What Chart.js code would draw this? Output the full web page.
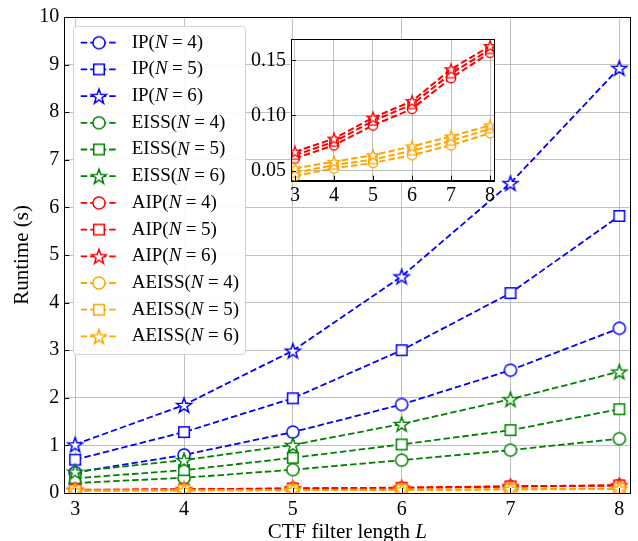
<!DOCTYPE html>
<html>
<head>
<meta charset="utf-8">
<script src="https://cdn.jsdelivr.net/npm/chart.js@4"></script>
<style>
body { margin: 0; background: #fff; }
#wrap { position: relative; width: 638px; height: 541px; }
#main { position: absolute; left: 0; top: 0; }
#inset { position: absolute; left: 240px; top: 22px; }
</style>
</head>
<body>
<div id="wrap">
  <canvas id="main" width="638" height="541"></canvas>
  <canvas id="inset" width="262" height="190"></canvas>
</div>
<script>
// filter lengths L
const lengths = [3, 4, 5, 6, 7, 8];
const yTicks = [0, 1, 2, 3, 4, 5, 6, 7, 8, 9, 10];
const insetTicks = [0.05, 0.10, 0.15];

// runtime (s)
const ipN4 = [0.43, 0.80, 1.28, 1.86, 2.58, 3.46];
const ipN5 = [0.70, 1.28, 1.99, 3.00, 4.20, 5.82];
const ipN6 = [1.02, 1.85, 2.99, 4.55, 6.51, 8.93];
const eissN4 = [0.21, 0.32, 0.49, 0.69, 0.90, 1.14];
const eissN5 = [0.31, 0.48, 0.74, 1.02, 1.32, 1.76];
const eissN6 = [0.45, 0.69, 1.01, 1.45, 1.97, 2.55];
const aipN4 = [0.061, 0.073, 0.091, 0.106, 0.134, 0.157];
const aipN5 = [0.064, 0.076, 0.095, 0.110, 0.138, 0.160];
const aipN6 = [0.067, 0.079, 0.098, 0.113, 0.142, 0.163];
const aeissN4 = [0.045, 0.052, 0.057, 0.064, 0.073, 0.084];
const aeissN5 = [0.048, 0.055, 0.060, 0.068, 0.077, 0.088];
const aeissN6 = [0.052, 0.058, 0.064, 0.072, 0.081, 0.091];

const series = [
    { name: 'IP', n: 4, data: ipN4, color: '#0000ff', shape: 'circle' },
    { name: 'IP', n: 5, data: ipN5, color: '#0000ff', shape: 'square' },
    { name: 'IP', n: 6, data: ipN6, color: '#0000ff', shape: 'star' },
    { name: 'EISS', n: 4, data: eissN4, color: '#008000', shape: 'circle' },
    { name: 'EISS', n: 5, data: eissN5, color: '#008000', shape: 'square' },
    { name: 'EISS', n: 6, data: eissN6, color: '#008000', shape: 'star' },
    { name: 'AIP', n: 4, data: aipN4, color: '#ff0000', shape: 'circle' },
    { name: 'AIP', n: 5, data: aipN5, color: '#ff0000', shape: 'square' },
    { name: 'AIP', n: 6, data: aipN6, color: '#ff0000', shape: 'star' },
    { name: 'AEISS', n: 4, data: aeissN4, color: '#ffa500', shape: 'circle' },
    { name: 'AEISS', n: 5, data: aeissN5, color: '#ffa500', shape: 'square' },
    { name: 'AEISS', n: 6, data: aeissN6, color: '#ffa500', shape: 'star' }
];

const serif = "'Liberation Serif', 'Times New Roman', serif";
const dash = [6.5, 3];

function makeMarker(shape, color, r, lw) {
    const s = Math.ceil(2 * r + lw + 2);
    const c = document.createElement('canvas');
    c.width = s;
    c.height = s;
    const g = c.getContext('2d');
    const m = s / 2;
    g.beginPath();
    if (shape === 'circle') {
        g.arc(m, m, r * 0.78, 0, Math.PI * 2);
    } else if (shape === 'square') {
        const h = r * 0.68;
        g.rect(m - h, m - h, 2 * h, 2 * h);
    } else {
        for (let i = 0; i < 10; i++) {
            const a = -Math.PI / 2 + i * Math.PI / 5;
            const rad = i % 2 ? r * 0.4 : r;
            const px = m + rad * Math.cos(a);
            const py = m + rad * Math.sin(a) + r * 0.1;
            if (i === 0) g.moveTo(px, py); else g.lineTo(px, py);
        }
        g.closePath();
    }
    g.fillStyle = '#fff';
    g.fill();
    g.lineWidth = lw;
    g.strokeStyle = color;
    g.stroke();
    return c;
}

series.forEach(s => {
    s.marker = makeMarker(s.shape, s.color, 7.8, 1.5);
    s.smallMarker = makeMarker(s.shape, s.color, 6, 1.4);
});

function pts(data) {
    return data.map((v, i) => ({ x: lengths[i], y: v }));
}

function framePlugin(xVals, yVals, len) {
    return {
        id: 'frame',
        afterDatasetsDraw(chart) {
            const { ctx, chartArea: a, scales } = chart;
            ctx.save();
            ctx.strokeStyle = '#000';
            ctx.lineWidth = 1;
            ctx.beginPath();
            xVals.forEach(v => {
                const x = Math.round(scales.x.getPixelForValue(v)) + 0.5;
                ctx.moveTo(x, a.bottom);
                ctx.lineTo(x, a.bottom - len);
            });
            yVals.forEach(v => {
                const y = Math.round(scales.y.getPixelForValue(v)) + 0.5;
                ctx.moveTo(a.left, y);
                ctx.lineTo(a.left + len, y);
            });
            ctx.stroke();
            ctx.strokeRect(Math.round(a.left) + 0.5, Math.round(a.top) + 0.5,
                Math.round(a.right - a.left), Math.round(a.bottom - a.top));
            ctx.restore();
        }
    };
}

const legendPlugin = {
    id: 'boxLegend',
    afterDraw(chart) {
        const ctx = chart.ctx;
        ctx.save();
        ctx.beginPath();
        ctx.roundRect(73.5, 26.5, 172, 328, 3);
        ctx.fillStyle = 'rgba(255,255,255,0.92)';
        ctx.fill();
        ctx.strokeStyle = '#d4d4d4';
        ctx.lineWidth = 1;
        ctx.stroke();
        ctx.textBaseline = 'middle';
        series.forEach((s, i) => {
            const y = 42.7 + i * 26.7;
            ctx.setLineDash(dash);
            ctx.lineWidth = 1.8;
            ctx.strokeStyle = s.color;
            ctx.beginPath();
            ctx.moveTo(80.7, y);
            ctx.lineTo(116.7, y);
            ctx.stroke();
            ctx.setLineDash([]);
            const m = s.marker;
            ctx.drawImage(m, 99 - m.width / 2, y - m.height / 2);
            ctx.fillStyle = '#000';
            let x = 131.7;
            ctx.font = '19px ' + serif;
            ctx.fillText(s.name + '(', x, y);
            x += ctx.measureText(s.name + '(').width;
            ctx.font = 'italic 19px ' + serif;
            ctx.fillText('N', x, y);
            x += ctx.measureText('N').width + 4.5;
            ctx.font = '19px ' + serif;
            ctx.fillText('=', x, y);
            x += ctx.measureText('=').width + 4.5;
            ctx.fillText(s.n + ')', x, y);
        });
        ctx.restore();
    }
};

const xTitlePlugin = {
    id: 'xTitle',
    afterDraw(chart) {
        const { ctx, chartArea: a } = chart;
        ctx.save();
        ctx.fillStyle = '#000';
        ctx.textBaseline = 'alphabetic';
        const t1 = 'CTF filter length ';
        ctx.font = '21px ' + serif;
        const w1 = ctx.measureText(t1).width;
        ctx.font = 'italic 21px ' + serif;
        const w2 = ctx.measureText('L').width;
        const x = (a.left + a.right) / 2 - (w1 + w2) / 2;
        const y = 537.5;
        ctx.font = '21px ' + serif;
        ctx.fillText(t1, x, y);
        ctx.font = 'italic 21px ' + serif;
        ctx.fillText('L', x + w1, y);
        ctx.restore();
    }
};

const whiteArea = {
    id: 'whiteArea',
    beforeDraw(chart) {
        const { ctx, chartArea: a } = chart;
        ctx.save();
        ctx.fillStyle = '#fff';
        ctx.fillRect(a.left, a.top, a.right - a.left, a.bottom - a.top);
        ctx.restore();
    }
};

function lineSet(s, i, small) {
    return {
        label: s.name + '(N=' + s.n + ')',
        data: pts(s.data),
        borderColor: s.color,
        backgroundColor: '#fff',
        borderWidth: small ? 2 : 1.8,
        borderDash: dash,
        tension: 0,
        pointStyle: small ? s.smallMarker : s.marker,
        pointRadius: 6,
        order: series.length - i
    };
}

const tickFont = { family: serif, size: 20 };

new Chart(document.getElementById('main'), {
    type: 'line',
    data: { datasets: series.map((s, i) => lineSet(s, i, false)) },
    options: {
        responsive: false,
        devicePixelRatio: 1,
        animation: false,
        layout: { padding: { top: 16, right: 4, left: 0, bottom: 0 } },
        plugins: { legend: { display: false }, tooltip: { enabled: false } },
        scales: {
            x: {
                type: 'linear',
                min: 2.9,
                max: 8.1,
                afterBuildTicks: sc => { sc.ticks = lengths.map(v => ({ value: v })); },
                afterFit: sc => { sc.height = 48; },
                grid: { color: '#b0b0b0', lineWidth: 0.8, drawTicks: false },
                border: { color: '#000', width: 1 },
                ticks: { font: tickFont, color: '#000', padding: 5, maxRotation: 0 }
            },
            y: {
                min: 0,
                max: 10,
                afterBuildTicks: sc => { sc.ticks = yTicks.map(v => ({ value: v })); },
                afterFit: sc => { sc.width = 64.3; },
                grid: { color: '#b0b0b0', lineWidth: 0.8, drawTicks: false },
                border: { color: '#000', width: 1 },
                ticks: { font: tickFont, color: '#000', padding: 5 },
                title: {
                    display: true,
                    text: 'Runtime (s)',
                    font: { family: serif, size: 21 },
                    color: '#000',
                    padding: { top: 10, bottom: 0 }
                }
            }
        }
    },
    plugins: [framePlugin(lengths, yTicks, 5), legendPlugin, xTitlePlugin]
});

// inset: AIP and AEISS only
const insetSeries = series.filter(s => s.name === 'AIP' || s.name === 'AEISS');

new Chart(document.getElementById('inset'), {
    type: 'line',
    data: { datasets: insetSeries.map((s, i) => lineSet(s, i, true)) },
    options: {
        responsive: false,
        devicePixelRatio: 1,
        animation: false,
        layout: { padding: { top: 8.7, right: 5, left: 0, bottom: 0 } },
        plugins: { legend: { display: false }, tooltip: { enabled: false } },
        scales: {
            x: {
                type: 'linear',
                min: 2.9,
                max: 8.1,
                afterBuildTicks: sc => { sc.ticks = lengths.map(v => ({ value: v })); },
                afterFit: sc => { sc.height = 31.3; },
                grid: { color: '#b0b0b0', lineWidth: 0.8, drawTicks: false },
                border: { color: '#000', width: 1 },
                ticks: { font: tickFont, color: '#000', padding: 3, maxRotation: 0 }
            },
            y: {
                min: 0.0408,
                max: 0.1694,
                afterBuildTicks: sc => { sc.ticks = insetTicks.map(v => ({ value: v })); },
                afterFit: sc => { sc.width = 51; },
                grid: { color: '#b0b0b0', lineWidth: 0.8, drawTicks: false },
                border: { color: '#000', width: 1 },
                ticks: { font: tickFont, color: '#000', padding: 5, callback: v => v.toFixed(2) }
            }
        }
    },
    plugins: [whiteArea, framePlugin(lengths, insetTicks, 5)]
});
</script>
</body>
</html>
